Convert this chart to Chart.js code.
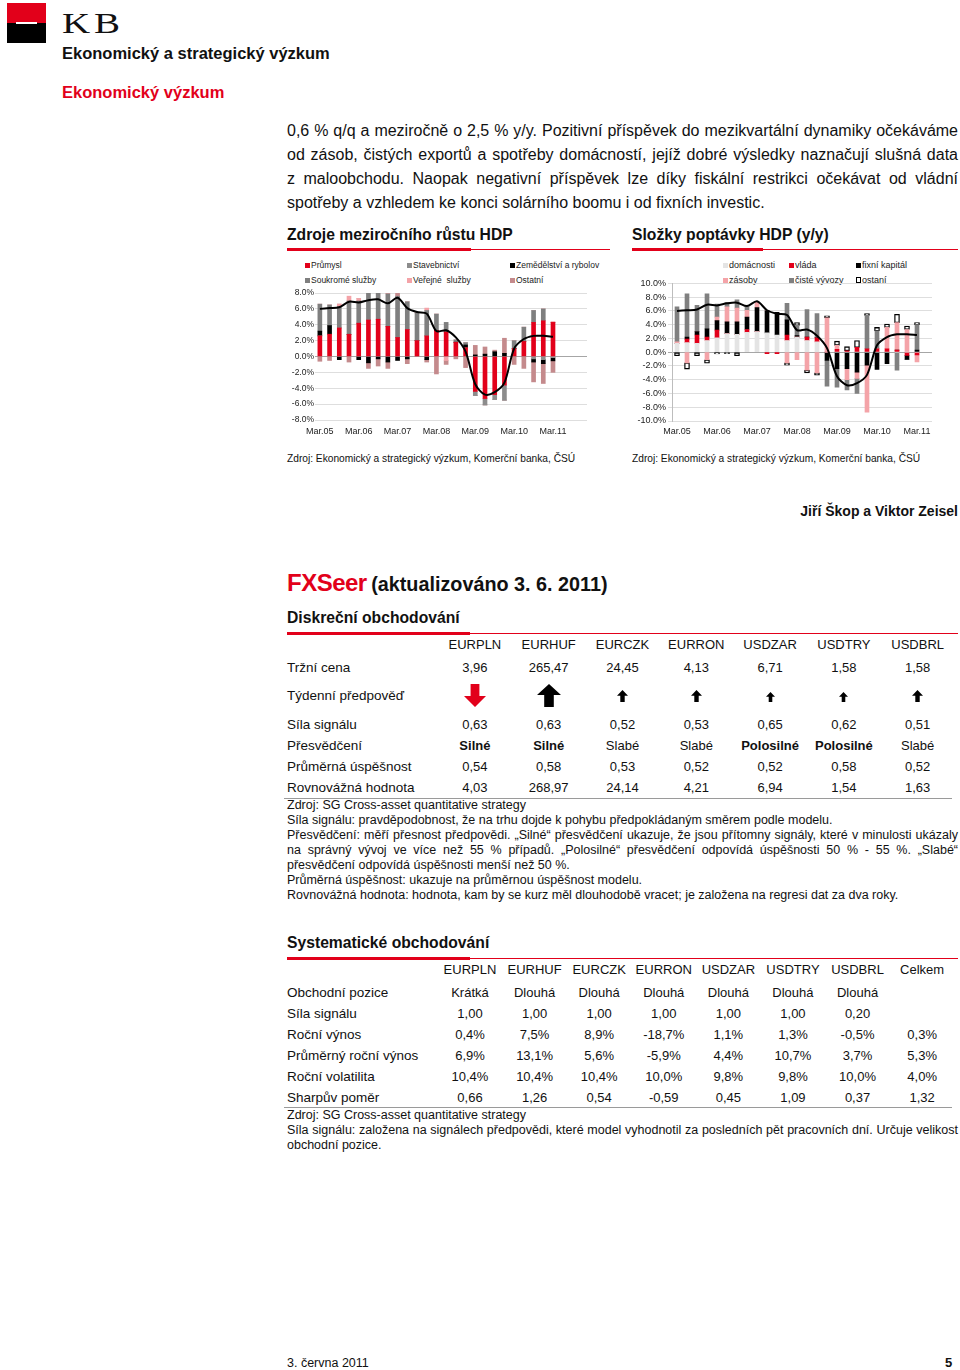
<!DOCTYPE html>
<html lang="cs">
<head>
<meta charset="utf-8">
<title>Ekonomický a strategický výzkum</title>
<script src="https://cdn.jsdelivr.net/npm/chart.js@4.4.1/dist/chart.umd.min.js"></script>
<style>
  html, body { margin: 0; padding: 0; background: #fff; }
  body { width: 960px; height: 1370px; position: relative; overflow: hidden;
         font-family: "Liberation Sans", Arial, sans-serif; color: #111; }
  .abs { position: absolute; white-space: nowrap; }
  .red { color: #e2001a; }
  .para { position: absolute; left: 287px; width: 671px; font-size: 16px; line-height: 20px; }
  .j { text-align: justify; text-align-last: justify; }
  .h2 { font-weight: bold; font-size: 15.7px; line-height: 20px; color: #111; }
  .rule-thick { position: absolute; height: 3px; background: #e2001a; }
  .rule-thin { position: absolute; height: 1px; background: #e2001a; }
  .src { font-size: 10.2px; line-height: 14px; }
  .legend { position: absolute; font-size: 8.5px; line-height: 10px; white-space: pre; color: #222; }
  .legend i { position: absolute; left: -6px; top: 3px; width: 5px; height: 5px; }
  .trow { position: absolute; left: 287px; height: 18px; line-height: 18px; display: flex; font-size: 13px; white-space: nowrap; }
  .trow .lab { font-size: 13.5px; }
  .trow .c { text-align: center; }
  .note { position: absolute; left: 287px; width: 671px; font-size: 12.5px; line-height: 15px; }
  canvas { position: absolute; }
</style>
</head>
<body>

<!-- header -->
<div class="abs" style="left:7px;top:3px;width:39px;height:20px;background:#e2001a;"></div>
<div class="abs" style="left:7px;top:23px;width:39px;height:20px;background:#000;"></div>
<div class="abs" style="left:16px;top:22px;width:21px;height:2px;background:#fff;"></div>
<div class="abs" style="left:62px;top:8px;font-family:'Liberation Serif',serif;font-size:30px;line-height:30px;letter-spacing:3px;transform:scaleX(1.3);transform-origin:left top;">KB</div>
<div class="abs" style="left:62px;top:43px;font-size:16.5px;line-height:20px;font-weight:bold;">Ekonomický a strategický výzkum</div>
<div class="abs red" style="left:62px;top:82px;font-size:16.5px;line-height:20px;font-weight:bold;">Ekonomický výzkum</div>

<!-- paragraph -->
<div class="para j" style="top:121px;">0,6 % q/q a meziročně o 2,5 % y/y. Pozitivní příspěvek do mezikvartální dynamiky očekáváme</div>
<div class="para j" style="top:145px;">od zásob, čistých exportů a spotřeby domácností, jejíž dobré výsledky naznačují slušná data</div>
<div class="para j" style="top:169px;">z maloobchodu. Naopak negativní příspěvek lze díky fiskální restrikci očekávat od vládní</div>
<div class="para" style="top:193px;">spotřeby a vzhledem ke konci solárního boomu i od fixních investic.</div>

<!-- chart headings -->
<div class="abs h2" style="left:287px;top:225px;">Zdroje meziročního růstu HDP</div>
<div class="rule-thin" style="left:287px;top:249px;width:323px;"></div>
<div class="rule-thick" style="left:287px;top:248px;width:184px;"></div>
<div class="abs h2" style="left:632px;top:225px;">Složky poptávky HDP (y/y)</div>
<div class="rule-thin" style="left:632px;top:249px;width:326px;"></div>
<div class="rule-thick" style="left:632px;top:248px;width:131px;"></div>

<div id="legend-left"></div>
<div id="legend-right"></div>
<canvas id="chart-left" width="310" height="156" style="left:287px;top:286px;"></canvas>
<canvas id="chart-right" width="310" height="166" style="left:632px;top:276px;"></canvas>

<div class="abs src" style="left:287px;top:452px;">Zdroj: Ekonomický a strategický výzkum, Komerční banka, ČSÚ</div>
<div class="abs src" style="left:632px;top:452px;">Zdroj: Ekonomický a strategický výzkum, Komerční banka, ČSÚ</div>

<div class="abs" style="right:2px;top:502px;font-size:14px;line-height:18px;font-weight:bold;">Jiří Škop a Viktor Zeisel</div>

<!-- FXSeer -->
<div class="abs" style="left:287px;top:569px;line-height:28px;">
  <span class="red" style="font-size:24px;font-weight:bold;letter-spacing:-0.5px;">FXSeer</span>
  <span style="font-size:19.8px;font-weight:bold;">(aktualizováno 3. 6. 2011)</span>
</div>

<div class="abs h2" style="left:287px;top:608px;">Diskreční obchodování</div>
<div class="rule-thin" style="left:287px;top:633px;width:671px;"></div>
<div class="rule-thick" style="left:287px;top:632px;width:183px;"></div>
<div id="table-disc"></div>
<div class="abs" style="left:284px;top:798px;width:668px;height:1px;background:#9a9a9a;"></div>
<div class="note" style="top:798px;">Zdroj: SG Cross-asset quantitative strategy</div>
<div class="note" style="top:813px;">Síla signálu: pravděpodobnost, že na trhu dojde k pohybu předpokládaným směrem podle modelu.</div>
<div class="note j" style="top:828px;">Přesvědčení: měří přesnost předpovědi. „Silné“ přesvědčení ukazuje, že jsou přítomny signály, které v minulosti ukázaly</div>
<div class="note j" style="top:843px;">na správný vývoj ve více než 55 % případů. „Polosilné“ přesvědčení odpovídá úspěšnosti 50 % - 55 %. „Slabé“</div>
<div class="note" style="top:858px;">přesvědčení odpovídá úspěšnosti menší než 50 %.</div>
<div class="note" style="top:873px;">Průměrná úspěšnost: ukazuje na průměrnou úspěšnost modelu.</div>
<div class="note" style="top:888px;">Rovnovážná hodnota: hodnota, kam by se kurz měl dlouhodobě vracet; je založena na regresi dat za dva roky.</div>

<div class="abs h2" style="left:287px;top:933px;">Systematické obchodování</div>
<div class="rule-thin" style="left:287px;top:958px;width:671px;"></div>
<div class="rule-thick" style="left:287px;top:957px;width:183px;"></div>
<div id="table-sys"></div>
<div class="abs" style="left:284px;top:1107px;width:668px;height:1px;background:#9a9a9a;"></div>
<div class="note" style="top:1108px;">Zdroj: SG Cross-asset quantitative strategy</div>
<div class="note j" style="top:1123px;">Síla signálu: založena na signálech předpovědi, které model vyhodnotil za posledních pět pracovních dní. Určuje velikost</div>
<div class="note" style="top:1138px;">obchodní pozice.</div>

<div class="abs" style="left:287px;top:1355px;font-size:12.5px;line-height:16px;">3. června 2011</div>
<div class="abs" style="left:945px;top:1355px;font-size:13px;line-height:16px;font-weight:bold;">5</div>

<script>
// quarterly y/y data, Mar.05 .. Mar.11
const quarters = ["Mar.05", "Jun.05", "Sep.05", "Dec.05", "Mar.06", "Jun.06", "Sep.06", "Dec.06",
  "Mar.07", "Jun.07", "Sep.07", "Dec.07", "Mar.08", "Jun.08", "Sep.08", "Dec.08",
  "Mar.09", "Jun.09", "Sep.09", "Dec.09", "Mar.10", "Jun.10", "Sep.10", "Dec.10", "Mar.11"];

const gdpGrowth = [6.0, 6.1, 6.2, 6.9, 6.8, 7.1, 7.2, 6.7, 7.4, 6.1, 5.6, 5.4, 3.2, 3.3, 2.4, 0.6,
  -3.5, -4.8, -4.5, -3.3, 1.0, 2.2, 2.6, 2.6, 2.5];

// Zdroje meziročního růstu HDP
const industry = [2.6, 2.8, 3.6, 2.8, 4.2, 4.6, 4.7, 3.8, 2.4, 3.4, 2.0, 2.6, 3.3, 3.1, 1.8, 1.1,
  -4.4, -5.3, -4.8, -3.6, 1.0, 1.9, 4.3, 4.5, 4.3];
const construction = [0, 0, 0, 0, 0, 0, 0, 0, 0, 0, 0, 0, 0, 0, 0, 0,
  -0.5, -0.8, -0.6, -1.9, 0, 0, -0.3, -0.4, -0.15];
const agriculture = [0.6, 1.1, -0.4, 0, -0.4, -0.8, -0.3, -0.7, -0.5, -0.3, 0, -0.4, 0, 0, 0, 0.35,
  0.2, 0.3, 0.6, 0.4, 0, 0, -0.4, -0.5, -0.4];
const privateServices = [3.4, 2.6, 2.7, 4.2, 2.8, 3.8, 3.3, 4.1, 5.2, 3.5, 3.5, 3.2, 2.05, 1.2, 0.3, 0.3,
  0, 0, 0, 0, 1.0, 1.8, 1.5, 1.5, 0];
const publicServices = [0, 0, 0.3, 0.6, 0.3, 0, 0.3, 0.2, 0, 0, 0, 0.3, 0, -0.5, 0, 0,
  0, 0, 0, 0, 0, 0, 0, 0, 0.1];
const otherSectors = [-0.6, -0.5, 0, -0.7, 0, -0.7, -0.9, -0.8, 0.4, -0.6, 0, -0.3, -2.2, -0.5, -0.3, -1.4,
  1.2, 0.9, 0.2, 1.9, -1.0, -1.5, -2.5, -2.5, -1.45];

const sectorNames = ["Průmysl", "Stavebnictví", "Zemědělství a rybolov", "Soukromé služby", "Veřejné  služby", "Ostatní"];
const sectorColors = ["#e2001a", "#8c8c8c", "#000000", "#7f7f7f", "#f4a3a8", "#c48a8c"];
const sectorValues = [industry, construction, agriculture, privateServices, publicServices, otherSectors];

// Složky poptávky HDP (y/y)
const households = [1.3, 1.4, 1.3, 1.7, 2.1, 2.7, 2.6, 2.9, 3.0, 2.8, 2.5, 1.7, 2.2, 1.7, 1.5, 0,
  0, 0, 0, 0, 0, 0, 0, 0, 0];
const government = [0, 0.5, 1.2, 0.5, 1.1, 0, 0, 0.4, 0, -0.2, -0.2, 0.8, 0, 0.5, 0.6, 0,
  0.4, 0.2, 0.7, 0.5, 0.5, 0.5, 0.3, -0.45, -0.4];
const fixedCapital = [0, 0.3, 0.5, 1.2, 1.4, 1.7, 1.8, 1.8, 3.5, 3.2, 3.3, 2.2, 0.2, 0, 0, -1.2,
  -2.4, -2.4, -2.9, -1.9, -2.5, -1.65, 0, -0.6, 0.3];
const inventories = [0.2, -1.55, 0, -1.1, 0.5, 2.2, 2.0, 1.0, 0.8, 0, 0, -1.55, -1.1, -2.6, -3.0, 5.0,
  0.6, -1.6, -0.9, -6.8, 0, 3.1, 4.0, 3.3, -1.0];
const netExports = [5.1, 6.3, 3.8, 5.1, 1.9, 0.6, 1.2, 0.5, 0, 0, 0, 2.4, 1.5, 4.0, 3.5, -3.75,
  -2.7, -1.5, -2.2, 4.85, 2.6, 0, -2.6, 0, 3.7];
const otherDemand = [-0.5, -0.9, -0.5, -0.5, -0.25, -0.2, -0.5, null, null, null, null, -0.35, 0.4, -0.4, -0.35, 0.3,
  0.6, 0.6, 1.0, 0.25, 0.5, 0.5, 1.2, 0.5, 0.3];

const demandNames = ["domácnosti", "vláda", "fixní kapitál", "zásoby", "čisté vývozy", "ostaní"];
const demandColors = ["#e4e4e4", "#e2001a", "#000000", "#f4a3a8", "#808080", "#ffffff"];
const demandValues = [households, government, fixedCapital, inventories, netExports, otherDemand];

// FXSeer tables
const discPairs = ["EURPLN", "EURHUF", "EURCZK", "EURRON", "USDZAR", "USDTRY", "USDBRL"];
const discMarketPrice = ["3,96", "265,47", "24,45", "4,13", "6,71", "1,58", "1,58"];
const discSignal = ["0,63", "0,63", "0,52", "0,53", "0,65", "0,62", "0,51"];
const discConviction = ["<b>Silné</b>", "<b>Silné</b>", "Slabé", "Slabé", "<b>Polosilné</b>", "<b>Polosilné</b>", "Slabé"];
const discSuccess = ["0,54", "0,58", "0,53", "0,52", "0,52", "0,58", "0,52"];
const discEquilibrium = ["4,03", "268,97", "24,14", "4,21", "6,94", "1,54", "1,63"];
const discArrows = [["down", 22, 23, 684], ["up", 24, 23, 684], ["up", 11, 12, 690], ["up", 11, 12, 690],
  ["up", 9, 10, 692], ["up", 9, 10, 692], ["up", 11, 12, 690]];

const sysPairs = ["EURPLN", "EURHUF", "EURCZK", "EURRON", "USDZAR", "USDTRY", "USDBRL", "Celkem"];
const sysPosition = ["Krátká", "Dlouhá", "Dlouhá", "Dlouhá", "Dlouhá", "Dlouhá", "Dlouhá", ""];
const sysSignal = ["1,00", "1,00", "1,00", "1,00", "1,00", "1,00", "0,20", ""];
const sysReturn = ["0,4%", "7,5%", "8,9%", "-18,7%", "1,1%", "1,3%", "-0,5%", "0,3%"];
const sysAvgReturn = ["6,9%", "13,1%", "5,6%", "-5,9%", "4,4%", "10,7%", "3,7%", "5,3%"];
const sysVolatility = ["10,4%", "10,4%", "10,4%", "10,0%", "9,8%", "9,8%", "10,0%", "4,0%"];
const sysSharpe = ["0,66", "1,26", "0,54", "-0,59", "0,45", "1,09", "0,37", "1,32"];

Chart.defaults.font.family = "'Liberation Sans', Arial, sans-serif";
Chart.defaults.color = "#222";

function buildLegend(nodeId, names, colors, fontSize) {
  const node = document.getElementById(nodeId);
  const colX = nodeId === "legend-left" ? [311, 413, 516] : [729, 795, 862];
  const rowY = [260, 275];
  names.forEach((name, i) => {
    const item = document.createElement("div");
    item.className = "legend";
    item.style.left = colX[i % 3] + "px";
    item.style.top = rowY[Math.floor(i / 3)] + "px";
    item.style.fontSize = fontSize + "px";
    const mark = document.createElement("i");
    mark.style.background = colors[i];
    if (colors[i] === "#ffffff") {
      mark.style.border = "1.5px solid #000";
      mark.style.width = "3px";
      mark.style.height = "4px";
      mark.style.top = "2px";
    }
    item.appendChild(mark);
    item.appendChild(document.createTextNode(name));
    node.appendChild(item);
  });
}

function renderChart(canvasId, names, colors, values, opts) {
  const labels = [...quarters, ...Array(opts.extraSlots).fill("")];
  const datasets = values.map((vals, i) => {
    const ds = {
      type: "bar",
      label: names[i],
      data: vals,
      backgroundColor: colors[i],
      barThickness: 4,
      stack: "parts",
      order: 1,
    };
    if (colors[i] === "#ffffff") {
      ds.borderColor = "#000";
      ds.borderWidth = 1.3;
      ds.borderSkipped = false;
      ds.barThickness = 5;
    }
    return ds;
  });
  datasets.push({
    type: "line",
    label: "HDP",
    data: gdpGrowth,
    borderColor: "#000",
    borderWidth: 2,
    pointRadius: 0,
    tension: 0.3,
    stack: "gdp",
    order: 0,
  });

  return new Chart(document.getElementById(canvasId), {
    type: "bar",
    data: { labels, datasets },
    options: {
      responsive: false,
      animation: false,
      devicePixelRatio: 1,
      layout: { padding: { top: 7, right: 10, bottom: 0, left: 0 } },
      plugins: { legend: { display: false }, tooltip: { enabled: false } },
      scales: {
        x: {
          stacked: true,
          grid: { display: false, drawTicks: false },
          border: { display: false },
          ticks: {
            autoSkip: false,
            maxRotation: 0,
            padding: opts.xPad,
            font: { size: 9 },
            callback: function (value) {
              const label = this.getLabelForValue(value);
              return label.startsWith("Mar") ? label : "";
            },
          },
          afterFit: (scale) => { scale.height = opts.xHeight; },
        },
        y: {
          stacked: true,
          min: opts.yMin,
          max: opts.yMax,
          grid: {
            color: (c) => (c.tick && c.tick.value === 0 ? "#a6a6a6" : "#dedede"),
            drawTicks: opts.yTicks,
            tickLength: 4,
          },
          border: { display: opts.yBorder, color: "#bdbdbd" },
          ticks: {
            stepSize: 2,
            autoSkip: false,
            padding: opts.yPad,
            font: { size: opts.yFont },
            callback: (v) => v.toFixed(1) + "%",
          },
          afterFit: (scale) => { scale.width = opts.yWidth; },
        },
      },
    },
  });
}

buildLegend("legend-left", sectorNames, sectorColors, 8.5);
buildLegend("legend-right", demandNames, demandColors, 9);

renderChart("chart-left", sectorNames, sectorColors, sectorValues, {
  extraSlots: 3, yMin: -8, yMax: 8, yWidth: 28, xHeight: 22, xPad: 6, yPad: 1, yFont: 8.5, yTicks: false, yBorder: false,
});
renderChart("chart-right", demandNames, demandColors, demandValues, {
  extraSlots: 1, yMin: -10, yMax: 10, yWidth: 40, xHeight: 21, xPad: 5, yPad: 2, yFont: 9, yTicks: true, yBorder: true,
});

// tables
function addRow(parentId, centerY, firstW, colW, label, cells, labelBold) {
  const row = document.createElement("div");
  row.className = "trow";
  row.style.top = (centerY - 9) + "px";
  const lab = document.createElement("div");
  lab.className = "lab";
  lab.style.width = firstW + "px";
  lab.textContent = label;
  if (labelBold) lab.style.fontWeight = "bold";
  row.appendChild(lab);
  cells.forEach((txt) => {
    const c = document.createElement("div");
    c.className = "c";
    c.style.width = colW + "px";
    c.innerHTML = txt;
    row.appendChild(c);
  });
  document.getElementById(parentId).appendChild(row);
}

function arrowSvg(dir, w, h) {
  const up = "10,0 20,10.5 14,10.5 14,22 6,22 6,10.5 0,10.5";
  const down = "6,0 14,0 14,11.5 20,11.5 10,22 0,11.5 6,11.5";
  const fill = dir === "down" ? "#e2001a" : "#000";
  return `<svg width="${w}" height="${h}" viewBox="0 0 20 22" preserveAspectRatio="none"><polygon points="${dir === "down" ? down : up}" fill="${fill}"/></svg>`;
}

addRow("table-disc", 645, 151, 73.8, "", discPairs);
addRow("table-disc", 668, 151, 73.8, "Tržní cena", discMarketPrice);
addRow("table-disc", 696, 151, 73.8, "Týdenní předpověď", []);
discArrows.forEach(([dir, w, h, top], i) => {
  const holder = document.createElement("div");
  holder.className = "abs";
  holder.style.left = (438 + 73.8 * i + 36.9 - w / 2) + "px";
  holder.style.top = top + "px";
  holder.style.lineHeight = "0";
  holder.innerHTML = arrowSvg(dir, w, h);
  document.getElementById("table-disc").appendChild(holder);
});
addRow("table-disc", 725, 151, 73.8, "Síla signálu", discSignal);
addRow("table-disc", 746, 151, 73.8, "Přesvědčení", discConviction);
addRow("table-disc", 767, 151, 73.8, "Průměrná úspěšnost", discSuccess);
addRow("table-disc", 788, 151, 73.8, "Rovnovážná hodnota", discEquilibrium);

addRow("table-sys", 970, 150.7, 64.6, "", sysPairs);
addRow("table-sys", 993, 150.7, 64.6, "Obchodní pozice", sysPosition);
addRow("table-sys", 1014, 150.7, 64.6, "Síla signálu", sysSignal);
addRow("table-sys", 1035, 150.7, 64.6, "Roční výnos", sysReturn);
addRow("table-sys", 1056, 150.7, 64.6, "Průměrný roční výnos", sysAvgReturn);
addRow("table-sys", 1077, 150.7, 64.6, "Roční volatilita", sysVolatility);
addRow("table-sys", 1098, 150.7, 64.6, "Sharpův poměr", sysSharpe);
</script>
</body>
</html>
